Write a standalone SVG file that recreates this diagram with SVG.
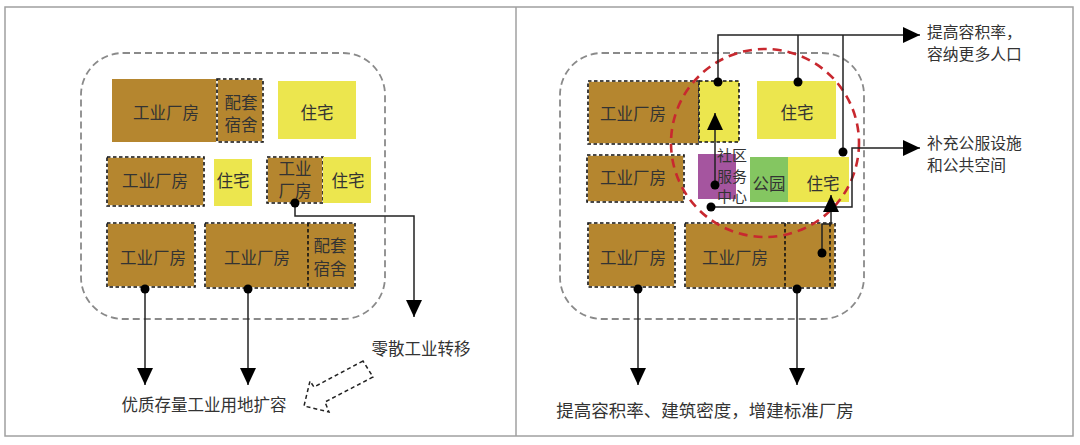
<svg xmlns="http://www.w3.org/2000/svg" width="1080" height="445" viewBox="0 0 1080 445">
<style>
text{font-family:"Noto Sans CJK SC","Noto Sans",sans-serif;font-size:16.5px;fill:#333;text-anchor:middle;dominant-baseline:central}
.lbl{text-anchor:start;font-size:15.8px}
.br{fill:#b5862f}
.ye{fill:#ece64e}
.pu{fill:#a5559f}
.gr{fill:#84c661}
.wb{fill:none;stroke:#fff;stroke-width:1.6}
.db{fill:none;stroke:#111;stroke-width:1.6;stroke-dasharray:3.5 2.5}
.zone{fill:none;stroke:#8a8a8a;stroke-width:1.8;stroke-dasharray:7 4}
.red{fill:none;stroke:#c8282f;stroke-width:2.6;stroke-dasharray:9 6}
.ln{fill:none;stroke:#222;stroke-width:1.5}
.ar{marker-end:url(#ah)}
.dot{fill:#000}
</style>
<defs>
<marker id="ah" markerUnits="userSpaceOnUse" markerWidth="17" markerHeight="16" refX="17" refY="8" orient="auto">
<path d="M0,0 L17,8 L0,16 z" fill="#000"/>
</marker>
</defs>
<rect x="5" y="7" width="1068" height="429" fill="#fff" stroke="#a0a0a0" stroke-width="1.5"/>
<line x1="516" y1="7" x2="516" y2="436" stroke="#a0a0a0" stroke-width="1.5"/>

<!-- LEFT PANEL -->
<g id="left-zone"><rect class="zone" x="81" y="53" width="304" height="266" rx="42"/></g>
<g id="L-r1-factory"><rect class="br" x="112" y="79" width="105" height="63"/><text x="166" y="112">工业厂房</text></g>
<g id="L-r1-dorm"><rect class="br" x="217" y="79" width="46" height="63"/><rect class="wb" x="217" y="79" width="46" height="63"/><rect class="db" x="217" y="79" width="46" height="63"/><text x="241" y="102">配套<tspan x="241" dy="22">宿舍</tspan></text></g>
<g id="L-r1-house"><rect class="ye" x="278" y="81" width="78" height="58"/><text x="317" y="112">住宅</text></g>
<g id="L-r2-factory"><rect class="br" x="107" y="157" width="97" height="49"/><rect class="wb" x="107" y="157" width="97" height="49"/><rect class="db" x="107" y="157" width="97" height="49"/><text x="155" y="180">工业厂房</text></g>
<g id="L-r2-house1"><rect class="ye" x="214" y="159" width="38" height="47"/><text x="233" y="180">住宅</text></g>
<g id="L-r2-factory2"><rect class="br" x="267" y="157" width="56" height="46"/><rect class="wb" x="267" y="157" width="56" height="46"/><rect class="db" x="267" y="157" width="56" height="46"/><text x="295" y="168">工业<tspan x="295" dy="22">厂房</tspan></text></g>
<g id="L-r2-house2"><rect class="ye" x="323" y="157" width="48" height="46"/><text x="348" y="180">住宅</text></g>
<g id="L-r3-factory1"><rect class="br" x="107" y="223" width="88" height="64"/><rect class="wb" x="107" y="223" width="88" height="64"/><rect class="db" x="107" y="223" width="88" height="64"/><text x="153" y="257">工业厂房</text></g>
<g id="L-r3-factory2"><rect class="br" x="205" y="223" width="150" height="65"/><rect class="wb" x="205" y="223" width="150" height="65"/><rect class="db" x="205" y="223" width="150" height="65"/><line class="db" x1="308" y1="223" x2="308" y2="288"/><text x="257" y="257">工业厂房</text><text x="330" y="245">配套<tspan x="330" dy="23">宿舍</tspan></text></g>
<g id="L-labels">
<text x="204" y="404">优质存量工业用地扩容</text>
<text x="421" y="348">零散工业转移</text>
<polygon points="363,361 314,387 310,381 304,406 329,412 325,402 373,377" fill="none" stroke="#222" stroke-width="1.5" stroke-dasharray="4 3"/>
</g>

<!-- RIGHT PANEL -->
<g id="right-zone"><rect class="zone" x="560" y="53" width="304" height="266" rx="42"/></g>
<g id="R-r1-factory"><rect class="br" x="588" y="81" width="111" height="63"/><rect class="wb" x="588" y="81" width="111" height="63"/><rect class="db" x="588" y="81" width="111" height="63"/><text x="633" y="113">工业厂房</text></g>
<g id="R-r1-newhouse"><rect class="ye" x="699" y="81" width="40" height="61"/><rect class="db" x="699" y="81" width="40" height="61"/></g>
<g id="R-r1-house"><rect class="ye" x="757" y="81" width="79" height="58"/><text x="797" y="112">住宅</text></g>
<g id="R-r2-factory"><rect class="br" x="587" y="155" width="97" height="47"/><rect class="wb" x="587" y="155" width="97" height="47"/><rect class="db" x="587" y="155" width="97" height="47"/><text x="633" y="177">工业厂房</text></g>
<g id="R-r2-center"><rect class="pu" x="698" y="154" width="38" height="45"/><text x="732" y="154.5" style="font-size:15px">社区<tspan x="732" dy="20">服务</tspan><tspan x="732" dy="20">中心</tspan></text></g>
<g id="R-r2-park"><rect class="gr" x="750" y="157" width="38" height="45"/><text x="769" y="183">公园</text></g>
<g id="R-r2-house"><rect class="ye" x="788" y="157" width="61" height="45"/><text x="823" y="183">住宅</text></g>
<g id="R-r3-factory1"><rect class="br" x="588" y="223" width="87" height="64"/><rect class="wb" x="588" y="223" width="87" height="64"/><rect class="db" x="588" y="223" width="87" height="64"/><text x="633" y="257">工业厂房</text></g>
<g id="R-r3-factory2"><rect class="br" x="685" y="223" width="150" height="65"/><rect class="wb" x="685" y="223" width="150" height="65"/><rect class="db" x="685" y="223" width="150" height="65"/><line class="db" x1="785" y1="223" x2="785" y2="288"/><line class="db" x1="830" y1="223" x2="830" y2="288"/><text x="735" y="257">工业厂房</text></g>
<g id="R-circle"><circle class="red" cx="765" cy="143" r="94"/></g>
<g id="R-labels">
<text class="lbl" x="927" y="31.5">提高容积率，<tspan x="927" dy="21">容纳更多人口</tspan></text>
<text class="lbl" x="927" y="142.5">补充公服设施<tspan x="927" dy="21">和公共空间</tspan></text>
<text x="705" y="409" style="font-size:17.5px">提高容积率、建筑密度，增建标准厂房</text>
</g>

<g id="connectors">
<path class="ln ar" d="M295,203 V216 H414 V317"/>
<path class="ln ar" d="M145,289 V385"/>
<path class="ln ar" d="M248,289 V385"/>
<path class="ln ar" d="M718,82 V35 H920"/>
<path class="ln" d="M798,82 V35"/>
<path class="ln" d="M843,152 V35"/>
<path class="ln ar" d="M711,207 H852 V148 H920"/>
<path class="ln ar" d="M715,185 V113"/>
<path class="ln ar" d="M822,253 V224 H831 V195"/>
<path class="ln ar" d="M638,289 V385"/>
<path class="ln ar" d="M797,289 V385"/>
<circle class="dot" cx="295" cy="203" r="4.5"/>
<circle class="dot" cx="145" cy="289" r="4.5"/>
<circle class="dot" cx="248" cy="289" r="4.5"/>
<circle class="dot" cx="718" cy="82" r="4.5"/>
<circle class="dot" cx="798" cy="82" r="4.5"/>
<circle class="dot" cx="843" cy="152" r="4.5"/>
<circle class="dot" cx="711" cy="207" r="4.5"/>
<circle class="dot" cx="715" cy="185" r="4.5"/>
<circle class="dot" cx="822" cy="253" r="4.5"/>
<circle class="dot" cx="638" cy="289" r="4.5"/>
<circle class="dot" cx="797" cy="289" r="4.5"/>
</g>
</svg>
